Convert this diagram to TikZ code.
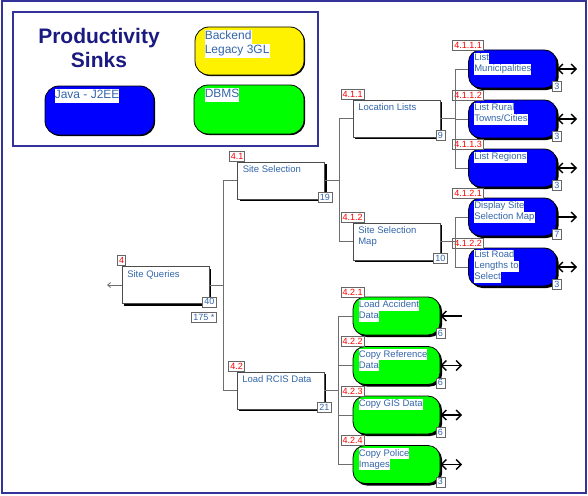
\documentclass[tikz,border=0pt]{standalone}
\usepackage{fontspec}
\setmainfont{Liberation Sans}
\usetikzlibrary{positioning,shadows,arrows.meta}
\definecolor{txtblue}{RGB}{51,102,170}
\definecolor{framenavy}{RGB}{51,51,153}
\definecolor{titlenavy}{RGB}{26,26,128}
\definecolor{linegray}{RGB}{110,110,110}
\setlength{\fboxsep}{0pt}
\newcommand{\hilite}[1]{\colorbox{white}{\strut #1}}
\tikzset{
block/.style = {draw=black!70, fill=white, rectangle, line width=0.8pt, minimum width=87pt, minimum height=37pt,
  drop shadow={shadow xshift=2pt, shadow yshift=-2pt, fill=black, opacity=1}},
sink/.style = {draw=black, rectangle, line width=0.8pt, rounded corners=12pt, minimum width=88pt, minimum height=38pt,
  drop shadow={shadow xshift=2pt, shadow yshift=-2pt, fill=black, opacity=1}},
java/.style = {sink, fill=blue},
dbms/.style = {sink, fill=green},
legacy/.style = {sink, fill=yellow},
key/.style = {draw=black, rectangle, line width=0.8pt, rounded corners=14pt,
  drop shadow={shadow xshift=1pt, shadow yshift=-1pt, fill=black, opacity=1}},
txt/.style = {inner sep=0pt, align=left, text=txtblue, font=\fontsize{9.5}{11}\selectfont},
keytxt/.style = {inner sep=0pt, align=left, text=txtblue, font=\fontsize{12}{14}\selectfont},
tag/.style = {draw=black!60, fill=white, text=red, line width=0.8pt, font=\fontsize{9}{10}\selectfont,
  inner xsep=1.5pt, inner ysep=1pt, text height=7pt, text depth=1pt},
num/.style = {draw=black!60, fill=white, text=txtblue, line width=0.8pt, font=\fontsize{9}{10}\selectfont,
  inner xsep=2pt, inner ysep=1pt, text height=7pt, text depth=1pt},
link/.style = {draw=linegray, line width=0.8pt},
flow/.style = {draw=black, line width=1.4pt},
tmp/.style = {coordinate}
}

\begin{document}
\begin{tikzpicture}[x=1pt, y=-1pt, >={Straight Barb[length=5pt,width=10pt]}]
  \useasboundingbox (0,0) rectangle (588,495);
  \draw [framenavy, line width=2pt] (1.5,1.5) rectangle (585.5,493);

  % legend
  \draw [framenavy, line width=2pt] (13,12) rectangle (318,146);
  \node [font=\fontsize{21}{24}\selectfont\bfseries, text=titlenavy, align=center] (title) at (99,48) {Productivity\\Sinks};
  \node [key, fill=yellow, minimum width=109pt, minimum height=48pt] (keylegacy) at (249.5,51) {};
  \node [key, fill=green, minimum width=110pt, minimum height=49pt] (keydbms) at (249,109.5) {};
  \node [key, fill=blue, minimum width=109pt, minimum height=49pt] (keyjava) at (99.5,110.5) {};
  \node [keytxt, below right=3pt and 10pt of keylegacy.north west] (tlegacy) {\hilite{Backend}\\\hilite{Legacy 3GL}};
  \node [keytxt, below right=3pt and 11pt of keydbms.north west] (tdbms) {\hilite{DBMS}};
  \node [keytxt, below right=3pt and 10pt of keyjava.north west] (tjava) {\hilite{Java - J2EE}};

  % level 4
  \node [block] (n4) at (165.5,285) {};
  \node [txt, below right=3pt and 5.5pt of n4.north west] (t4) {\hilite{Site Queries}};
  \node [tag, above=0pt of n4.north west] (g4) {4};
  \node [num, yshift=2pt] (c4) at (n4.south east) {40};
  \node [num, below left=5pt and 0pt of c4.south east] (s4) {175 *};
  \node [tmp] (out4) at (107,285) {};

  % level 4.1 / 4.2
  \node [block] (n41) at (281,180.5) {};
  \node [txt, below right=3pt and 5.5pt of n41.north west] (t41) {\hilite{Site Selection}};
  \node [tag, above=0pt of n41.north west] (g41) {4.1};
  \node [num, yshift=2pt] (c41) at (n41.south east) {19};

  \node [block] (n42) at (280.5,390.5) {};
  \node [txt, below right=3pt and 5.5pt of n42.north west] (t42) {\hilite{Load RCIS Data}};
  \node [tag, above=0pt of n42.north west] (g42) {4.2};
  \node [num, yshift=2pt] (c42) at (n42.south east) {21};

  % level 4.1.x
  \node [block] (n411) at (396.5,118.5) {};
  \node [txt, below right=3pt and 5.5pt of n411.north west] (t411) {\hilite{Location Lists}};
  \node [tag, above=0pt of n411.north west] (g411) {4.1.1};
  \node [num, yshift=2pt] (c411) at (n411.south east) {9};

  \node [block] (n412) at (396.5,241.5) {};
  \node [txt, below right=3pt and 5.5pt of n412.north west] (t412) {\hilite{Site Selection}\\\hilite{Map}};
  \node [tag, above=0pt of n412.north west] (g412) {4.1.2};
  \node [num, yshift=2pt] (c412) at (n412.south east) {10};

  % level 4.1.1.x
  \node [java] (n4111) at (512.5,69) {};
  \node [txt, below right=3pt and 6pt of n4111.north west] (t4111) {\hilite{List}\\\hilite{Municipalities}};
  \node [tag, above=-1pt of n4111.north west] (g4111) {4.1.1.1};
  \node [num, yshift=2pt] (c4111) at (n4111.south east) {3};
  \node [tmp] (e4111) at (577,69) {};

  \node [java] (n4112) at (512.5,119) {};
  \node [txt, below right=3pt and 6pt of n4112.north west] (t4112) {\hilite{List Rural}\\\hilite{Towns/Cities}};
  \node [tag, above=-1pt of n4112.north west] (g4112) {4.1.1.2};
  \node [num, yshift=2pt] (c4112) at (n4112.south east) {3};
  \node [tmp] (e4112) at (577,119) {};

  \node [java] (n4113) at (512.5,168) {};
  \node [txt, below right=3pt and 6pt of n4113.north west] (t4113) {\hilite{List Regions}};
  \node [tag, above=-1pt of n4113.north west] (g4113) {4.1.1.3};
  \node [num, yshift=2pt] (c4113) at (n4113.south east) {3};
  \node [tmp] (e4113) at (577,168) {};

  % level 4.1.2.x
  \node [java] (n4121) at (512.5,217) {};
  \node [txt, below right=3pt and 6pt of n4121.north west] (t4121) {\hilite{Display Site}\\\hilite{Selection Map}};
  \node [tag, above=-1pt of n4121.north west] (g4121) {4.1.2.1};
  \node [num, yshift=2pt] (c4121) at (n4121.south east) {7};
  \node [tmp] (e4121) at (577,217) {};

  \node [java] (n4122) at (512.5,267) {};
  \node [txt, below right=2pt and 6pt of n4122.north west] (t4122) {\hilite{List Road}\\\hilite{Lengths to}\\\hilite{Select}};
  \node [tag, above=-1pt of n4122.north west] (g4122) {4.1.2.2};
  \node [num, yshift=2pt] (c4122) at (n4122.south east) {3};
  \node [tmp] (e4122) at (577,267) {};

  % level 4.2.x
  \node [dbms, minimum width=87pt] (n421) at (396.5,316) {};
  \node [txt, below right=3pt and 6pt of n421.north west] (t421) {\hilite{Load Accident}\\\hilite{Data}};
  \node [tag, above=-1pt of n421.north west] (g421) {4.2.1};
  \node [num, yshift=2pt] (c421) at (n421.south east) {6};
  \node [tmp] (e421) at (462,316) {};

  \node [dbms, minimum width=87pt] (n422) at (396.5,365.5) {};
  \node [txt, below right=3pt and 6pt of n422.north west] (t422) {\hilite{Copy Reference}\\\hilite{Data}};
  \node [tag, above=-1pt of n422.north west] (g422) {4.2.2};
  \node [num, yshift=2pt] (c422) at (n422.south east) {6};
  \node [tmp] (e422) at (462,365.5) {};

  \node [dbms, minimum width=87pt] (n423) at (396.5,415) {};
  \node [txt, below right=3pt and 6pt of n423.north west] (t423) {\hilite{Copy GIS Data}};
  \node [tag, above=-1pt of n423.north west] (g423) {4.2.3};
  \node [num, yshift=2pt] (c423) at (n423.south east) {6};
  \node [tmp] (e423) at (462,415) {};

  \node [dbms, minimum width=87pt] (n424) at (396.5,464.5) {};
  \node [txt, below right=3pt and 6pt of n424.north west] (t424) {\hilite{Copy Police}\\\hilite{Images}};
  \node [tag, above=-1pt of n424.north west] (g424) {4.2.4};
  \node [num, yshift=2pt] (c424) at (n424.south east) {3};
  \node [tmp] (e424) at (462,464.5) {};

  % tree links
  \draw [link, -{Straight Barb[length=3pt,width=5pt]}] (n4.west) -- (out4);
  \draw [link] (n4.east) -- ++(14,0) |- (n41.west);
  \draw [link] (n4.east) -- ++(14,0) |- (n42.west);
  \draw [link] (n41.east) -- ++(14,0) |- (n411.west);
  \draw [link] (n41.east) -- ++(14,0) |- (n412.west);
  \draw [link] (n411.east) -- ++(15,0) |- (n4111.west);
  \draw [link] (n411.east) -- ++(15,0) |- (n4112.west);
  \draw [link] (n411.east) -- ++(15,0) |- (n4113.west);
  \draw [link] (n412.east) -- ++(15,0) |- (n4121.west);
  \draw [link] (n412.east) -- ++(15,0) |- (n4122.west);
  \draw [link] (n42.east) -- ++(14,0) |- (n421.west);
  \draw [link] (n42.east) -- ++(14,0) |- (n422.west);
  \draw [link] (n42.east) -- ++(14,0) |- (n423.west);
  \draw [link] (n42.east) -- ++(14,0) |- (n424.west);

  % data flows
  \draw [flow, <->] (n4111.east) -- (e4111);
  \draw [flow, <->] (n4112.east) -- (e4112);
  \draw [flow, <->] (n4113.east) -- (e4113);
  \draw [flow, ->] (n4121.east) -- (e4121);
  \draw [flow, <->] (n4122.east) -- (e4122);
  \draw [flow, <-] (n421.east) -- (e421);
  \draw [flow, <->] (n422.east) -- (e422);
  \draw [flow, <->] (n423.east) -- (e423);
  \draw [flow, <->] (n424.east) -- (e424);
\end{tikzpicture}
\end{document}
